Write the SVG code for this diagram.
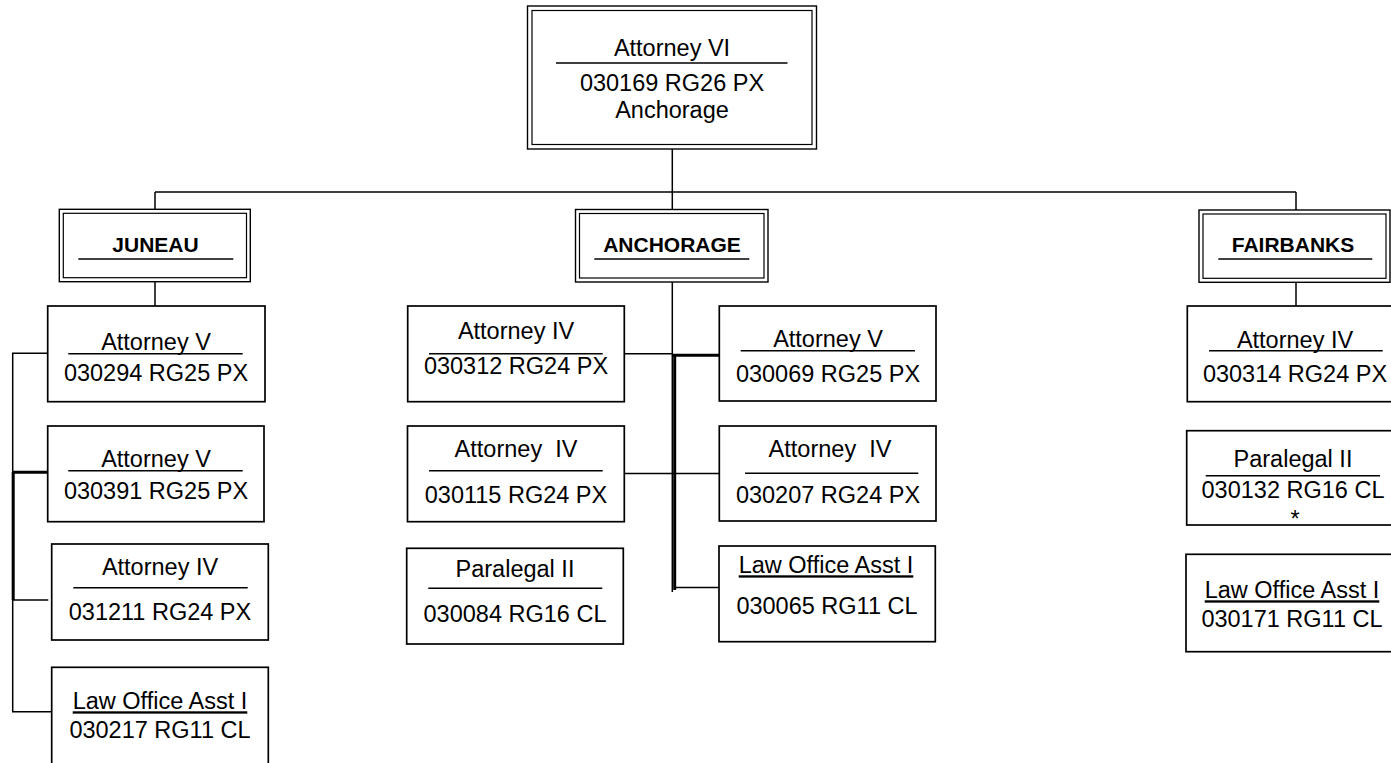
<svg xmlns="http://www.w3.org/2000/svg" width="1391" height="763" viewBox="0 0 1391 763">
<style>
.box{fill:#fff;stroke:#000;stroke-width:1.7}
.dbl{fill:#fff;stroke:#000;stroke-width:1.4}
.dbi{fill:none;stroke:#000;stroke-width:1.2}
.t{font-family:"Liberation Sans",Arial,sans-serif;font-size:23.5px;text-anchor:middle;fill:#000}
.h{font-weight:bold;font-size:21px}
.u{text-decoration:underline}
.ul{stroke:#000;stroke-width:1.6}
.c{stroke:#000;stroke-width:1.5;fill:none}
.ck{stroke:#000;stroke-width:3;fill:none}
</style>
<rect width="1391" height="763" fill="#fff"/>
<g id="connectors">
<path class="c" d="M672.3 149V210M155 192H1296M155 192V209M1296 192V210"/>
<path class="c" d="M155 282V306M1296 282V306"/>
<path class="c" d="M47.7 353.3H12.7V711.7H51.7M12.7 600H48.3"/>
<path class="ck" d="M12 472.3H51.7M13.2 472V600"/>
<path class="c" d="M672.3 282V592M624.3 353.7H672.3M624.3 473.5H720M674 587.5H719"/>
<path class="ck" d="M674.7 355V590M673 355.3H720"/>
</g>
<g id="n-top">
<rect class="dbl" x="527.5" y="6" width="289" height="143"/>
<rect class="dbi" x="532" y="10.5" width="280" height="134"/>
<text class="t" x="672" y="56">Attorney VI</text>
<line class="ul" x1="556" y1="63" x2="787.5" y2="63"/>
<text class="t" x="672" y="91">030169 RG26 PX</text>
<text class="t" x="672" y="117.5">Anchorage</text>
</g>
<g id="n-juneau">
<rect class="dbl" x="59.3" y="209.3" width="191" height="72.4"/>
<rect class="dbi" x="63.3" y="213.3" width="183.2" height="64.4"/>
<text class="t h" x="155.5" y="251.7">JUNEAU</text>
<line class="ul" x1="78.3" y1="259" x2="233.3" y2="259"/>
</g>
<g id="n-anchorage">
<rect class="dbl" x="575.5" y="209.5" width="192.5" height="72.5"/>
<rect class="dbi" x="579.5" y="213.5" width="184.5" height="64.5"/>
<text class="t h" x="672" y="251.7">ANCHORAGE</text>
<line class="ul" x1="594.3" y1="259" x2="749.3" y2="259"/>
</g>
<g id="n-fairbanks">
<rect class="dbl" x="1199" y="210" width="191" height="72.3"/>
<rect class="dbi" x="1203" y="214" width="183" height="64.3"/>
<text class="t h" x="1293" y="251.7">FAIRBANKS</text>
<line class="ul" x1="1218.3" y1="259" x2="1372.3" y2="259"/>
</g>
<g id="n-j1">
<rect class="box" x="47.7" y="306" width="217.3" height="95.7"/>
<text class="t" x="156" y="349.5">Attorney V</text>
<line class="ul" x1="68.3" y1="353.7" x2="242.7" y2="353.7"/>
<text class="t" x="156" y="381">030294 RG25 PX</text>
</g>
<g id="n-j2">
<rect class="box" x="47.7" y="426" width="216.3" height="95.7"/>
<text class="t" x="156" y="466.5">Attorney V</text>
<line class="ul" x1="68.3" y1="470.7" x2="242.7" y2="470.7"/>
<text class="t" x="156" y="499">030391 RG25 PX</text>
</g>
<g id="n-j3">
<rect class="box" x="51.7" y="544" width="216.6" height="96"/>
<text class="t" x="160" y="575">Attorney IV</text>
<line class="ul" x1="73.3" y1="587.7" x2="247.7" y2="587.7"/>
<text class="t" x="160" y="620">031211 RG24 PX</text>
</g>
<g id="n-j4">
<rect class="box" x="51.7" y="667.3" width="216.6" height="110"/>
<text class="t u" x="160" y="709.3">Law Office Asst I</text>
<text class="t" x="160" y="737.7">030217 RG11 CL</text>
</g>
<g id="n-al1">
<rect class="box" x="407.7" y="306" width="216.6" height="95.7"/>
<text class="t" x="516" y="339.3">Attorney IV</text>
<line class="ul" x1="429" y1="353.7" x2="602.7" y2="353.7"/>
<text class="t" x="516" y="374.3">030312 RG24 PX</text>
</g>
<g id="n-al2">
<rect class="box" x="407.5" y="426" width="216.8" height="95.7"/>
<text class="t" x="516" y="457.3" xml:space="preserve">Attorney  IV</text>
<line class="ul" x1="429" y1="470.7" x2="602.7" y2="470.7"/>
<text class="t" x="516" y="503.3">030115 RG24 PX</text>
</g>
<g id="n-al3">
<rect class="box" x="406.7" y="548.3" width="216.6" height="95.7"/>
<text class="t" x="515" y="576.7">Paralegal II</text>
<line class="ul" x1="428.3" y1="588.3" x2="602.3" y2="588.3"/>
<text class="t" x="515" y="622.3">030084 RG16 CL</text>
</g>
<g id="n-ar1">
<rect class="box" x="719.3" y="306" width="216.7" height="95"/>
<text class="t" x="828" y="346.7">Attorney V</text>
<line class="ul" x1="740.7" y1="350.7" x2="915" y2="350.7"/>
<text class="t" x="828" y="381.7">030069 RG25 PX</text>
</g>
<g id="n-ar2">
<rect class="box" x="719.3" y="426" width="216.7" height="95"/>
<text class="t" x="830" y="456.7" xml:space="preserve">Attorney  IV</text>
<line class="ul" x1="745" y1="473.3" x2="918.3" y2="473.3"/>
<text class="t" x="828" y="503.3">030207 RG24 PX</text>
</g>
<g id="n-ar3">
<rect class="box" x="719" y="546" width="216.3" height="95.7"/>
<text class="t u" x="826" y="573.3">Law Office Asst I</text>
<text class="t" x="827" y="614">030065 RG11 CL</text>
</g>
<g id="n-f1">
<rect class="box" x="1187.3" y="306" width="216.7" height="95.7"/>
<text class="t" x="1295" y="348.3">Attorney IV</text>
<line class="ul" x1="1209" y1="350.7" x2="1382.7" y2="350.7"/>
<text class="t" x="1295" y="381.7">030314 RG24 PX</text>
</g>
<g id="n-f2">
<rect class="box" x="1186.7" y="430.7" width="217.3" height="94.3"/>
<text class="t" x="1293" y="466.7">Paralegal II</text>
<line class="ul" x1="1205.7" y1="475.7" x2="1380" y2="475.7"/>
<text class="t" x="1293" y="498.3">030132 RG16 CL</text>
<text class="t" x="1295" y="527">*</text>
</g>
<g id="n-f3">
<rect class="box" x="1186" y="554.3" width="218" height="97.4"/>
<text class="t u" x="1292" y="598.3">Law Office Asst I</text>
<text class="t" x="1292" y="626.7">030171 RG11 CL</text>
</g>
</svg>
